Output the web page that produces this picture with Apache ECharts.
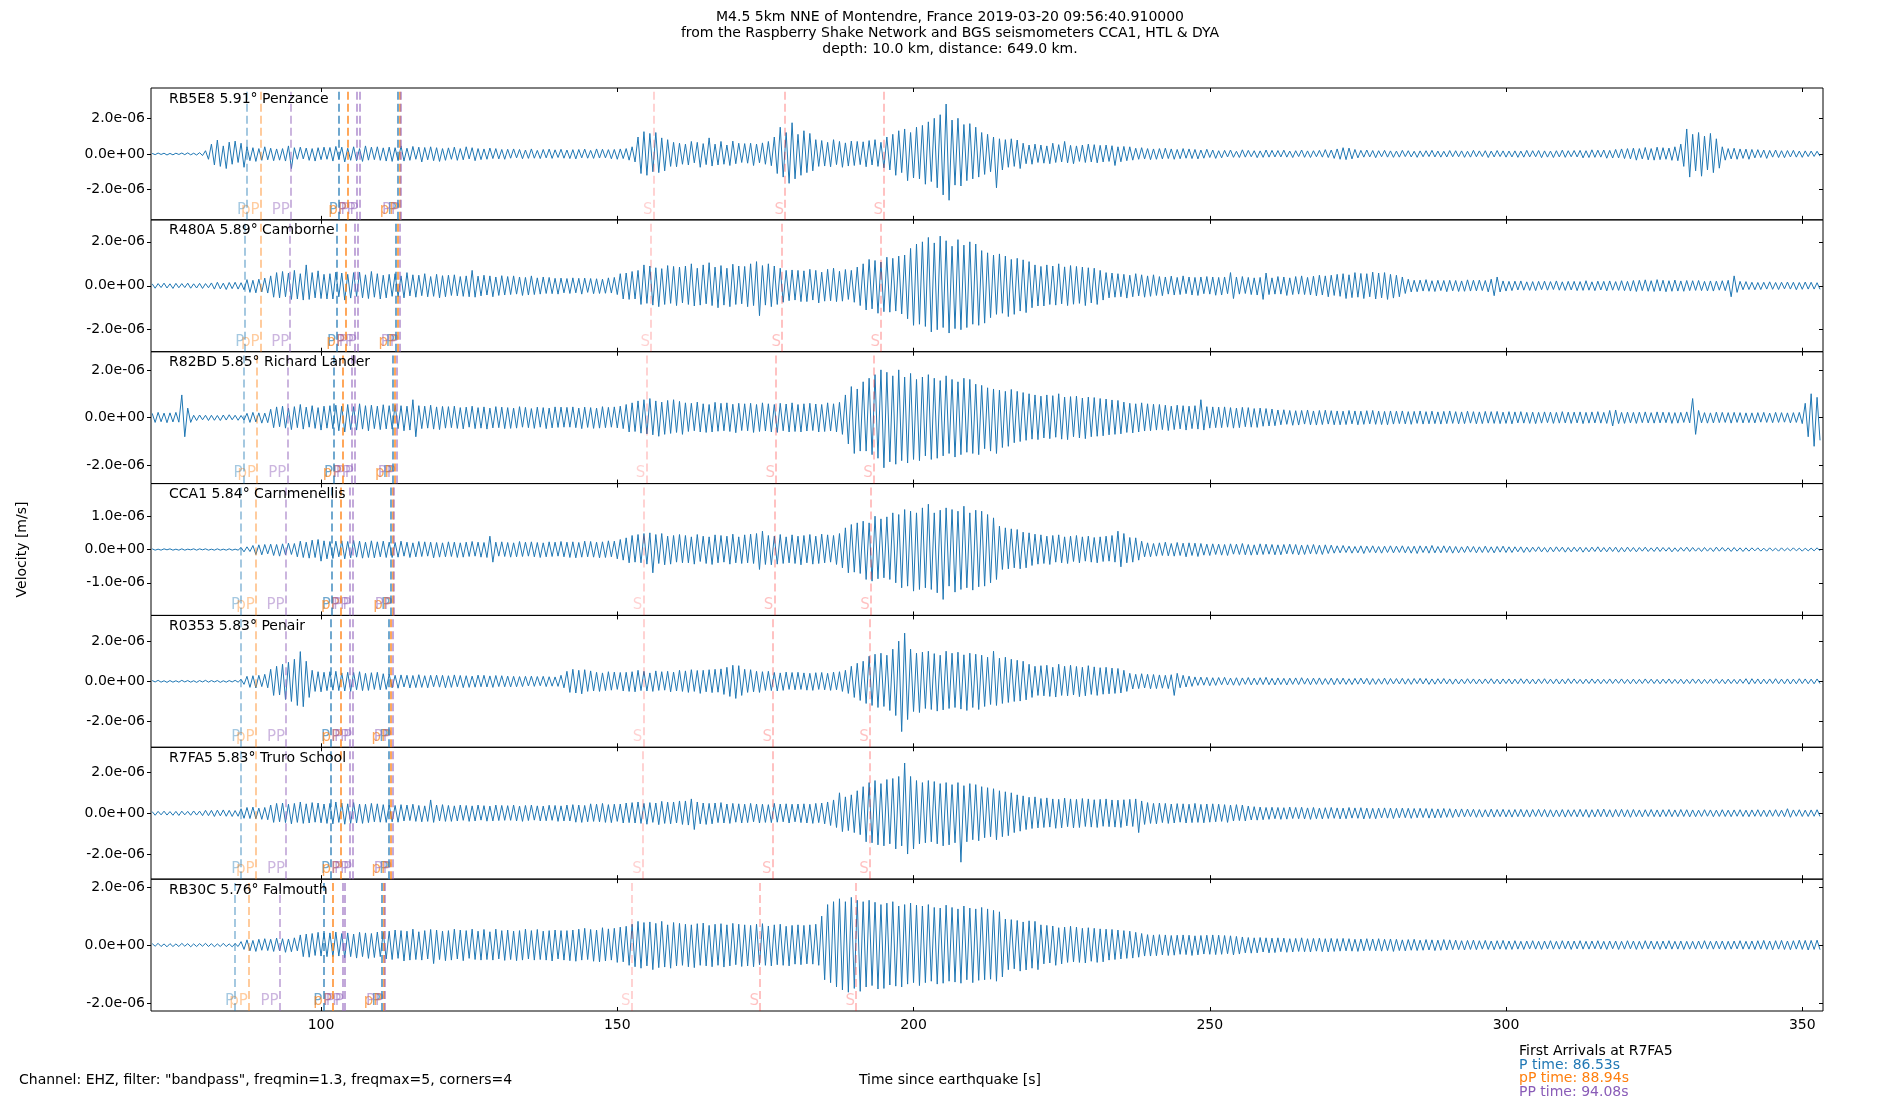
<!DOCTYPE html>
<html><head><meta charset="utf-8">
<script src="https://cdn.jsdelivr.net/npm/echarts@6/dist/echarts.min.js"></script>
<style>html,body{margin:0;padding:0;background:#fff}#c{width:1900px;height:1100px}</style>
</head><body><div id="c"></div>
<script>
// ---------------- data ----------------
const T0 = 71.5;     // time of first sample [s since origin]
const DT = 0.5;      // sample spacing [s]
const UNIT = 1e-8;   // trace values are in units of 1e-8 m/s
const stationCodes = ['RB5E8','R480A','R82BD','CCA1','R0353','R7FA5','RB30C'];
const stationDists = ['5.91','5.89','5.85','5.84','5.83','5.83','5.76'];
const stationNames = ['Penzance','Camborne','Richard Lander','Carnmenellis','Penair','Truro School','Falmouth'];
const phaseNames = ['P','pP','PP','P','pP','PP','PP','P','pP','PP','S','S','S'];
const arrivals_RB5E8 = [87.5,89.8,94.9,103.0,104.5,106.0,106.5,112.9,113.2,113.5,156.1,178.3,195.0];
const arrivals_R480A = [87.2,89.8,94.8,102.7,104.2,105.7,106.2,112.6,113.0,113.3,155.7,177.8,194.5];
const arrivals_R82BD = [86.9,89.2,94.3,102.2,103.6,105.2,105.7,112.1,112.4,112.8,154.9,176.8,193.3];
const arrivals_CCA1  = [86.5,89.0,94.0,101.8,103.3,104.9,105.3,111.8,112.1,112.3,154.4,176.5,192.8];
const arrivals_R0353 = [86.53,88.94,94.08,101.7,103.4,104.9,105.4,111.5,111.8,112.1,154.4,176.3,192.6];
const arrivals_R7FA5 = [86.53,88.94,94.08,101.7,103.4,104.9,105.4,111.5,111.8,112.1,154.3,176.2,192.6];
const arrivals_RB30C = [85.5,87.8,93.0,100.4,102.0,103.6,104.0,110.2,110.5,110.8,152.4,174.1,190.3];
const xTicks = [100,150,200,250,300,350];
const yTicksMain = [-2e-6,0,2e-6];
const yTicksCCA1 = [-1e-6,0,1e-6];

const trace_RB5E8 = [
3,-4,5,-3,4,-6,3,-5,4,-3,5,-4,6,-5,4,-6,7,-9,18,-30,
55,-62,78,-70,45,-82,66,-58,72,-48,60,-75,40,-38,35,-42,30,-36,40,-33,
32,-38,28,-35,30,-40,45,-82,35,-30,38,-28,33,-36,30,-40,35,-32,38,-30,
36,-40,42,-30,38,-45,32,-36,40,-38,30,-42,45,-35,38,-32,40,-36,34,-40,
38,-42,35,-38,45,-40,32,-36,42,-30,38,-45,36,-33,40,-38,35,-42,30,-36,
34,-30,38,-36,30,-33,40,-28,35,-38,30,-32,28,-30,33,-26,30,-28,25,-30,
26,-24,28,-22,25,-27,22,-25,28,-24,20,-26,25,-22,27,-25,23,-20,26,-24,
22,-26,24,-28,25,-22,27,-24,20,-25,28,-23,26,-22,24,-27,25,-30,28,-26,
30,-35,40,-45,95,-110,125,-120,115,-100,120,-105,90,-95,80,-70,65,-72,60,-58,
55,-62,70,-50,65,-75,58,-60,90,-68,55,-62,70,-58,50,-65,72,-55,60,-48,
58,-52,60,-65,55,-50,62,-58,70,-66,95,-110,150,-130,120,-165,175,-140,110,-120,
130,-105,115,-95,80,-70,75,-68,65,-72,80,-60,70,-75,62,-68,72,-65,70,-60,
68,-72,75,-62,80,-70,65,-78,95,-90,110,-120,130,-105,140,-150,120,-135,150,-140,
160,-170,180,-155,200,-190,220,-230,280,-260,190,-175,200,-180,165,-150,170,-140,150,-130,
120,-115,110,-100,95,-190,85,-90,80,-75,85,-70,78,-82,60,-55,50,-58,55,-48,
50,-52,45,-55,60,-48,52,-45,70,-50,48,-55,45,-42,50,-48,55,-45,52,-50,
48,-45,50,-42,46,-65,40,-44,42,-38,40,-35,32,-30,35,-28,30,-32,28,-30,
30,-28,32,-26,28,-30,25,-27,30,-24,28,-26,25,-28,22,-24,26,-20,22,-25,
18,-22,20,-17,22,-19,15,-20,23,-18,20,-16,18,-21,17,-19,22,-18,20,-17,
19,-17,21,-18,16,-20,18,-15,22,-19,17,-20,18,-16,20,-18,24,-20,22,-25,
28,-30,35,-32,33,-28,25,-22,20,-18,22,-17,19,-21,18,-16,20,-18,17,-19,
16,-18,20,-15,18,-17,15,-19,17,-16,18,-15,20,-17,16,-18,15,-17,19,-16,
18,-16,17,-19,15,-18,20,-16,17,-15,18,-20,16,-17,19,-15,17,-18,16,-17,
17,-19,16,-18,20,-17,18,-16,19,-21,17,-18,16,-20,18,-17,21,-19,18,-16,
19,-17,20,-22,18,-20,23,-19,21,-18,22,-24,20,-23,25,-22,28,-26,30,-28,
32,-35,30,-28,36,-33,30,-35,38,-32,35,-30,33,-36,40,-38,55,-70,140,-130,
110,-95,120,-125,100,-90,115,-105,85,-80,40,-35,30,-28,32,-30,28,-25,27,-30,
25,-22,24,-20,22,-25,20,-18,22,-20,18,-21,19,-17,20,-18,16,-19,17,-15,
16,-14,15,-13];

const trace_R480A = [
9,-11,10,-8,12,-10,9,-12,11,-9,10,-8,12,-11,9,-10,11,-12,10,-9,
13,-15,16,-14,12,-17,15,-13,16,-15,14,-18,28,-30,25,-32,30,-28,35,-33,
45,-52,60,-55,65,-50,58,-62,70,-60,55,-65,95,-62,60,-55,68,-58,52,-60,
55,-60,62,-50,58,-65,52,-56,60,-48,62,-55,50,-58,65,-52,55,-60,48,-55,
52,-48,55,-50,45,-55,60,-46,50,-52,48,-45,55,-50,42,-48,52,-55,46,-50,
48,-44,50,-46,42,-48,45,-50,70,-52,44,-46,48,-42,45,-50,40,-44,46,-42,
42,-40,45,-38,40,-44,38,-42,45,-40,36,-38,40,-35,38,-36,34,-38,35,-32,
33,-35,36,-32,34,-38,35,-30,33,-36,32,-35,30,-34,36,-33,38,-40,55,-60,
58,-62,65,-60,70,-85,95,-80,90,-88,82,-95,78,-85,92,-80,88,-90,85,-78,
90,-85,100,-92,80,-88,95,-82,105,-90,85,-100,92,-88,80,-95,98,-85,90,-82,
88,-95,100,-90,110,-136,92,-88,100,-95,90,-85,80,-75,70,-68,72,-65,70,-72,
68,-72,75,-65,70,-78,62,-70,75,-68,80,-72,66,-70,74,-62,70,-75,85,-90,
100,-110,120,-105,115,-125,108,-118,130,-120,125,-115,135,-128,140,-150,170,-180,190,-175,
200,-185,220,-210,195,-200,226,-190,205,-215,180,-195,210,-200,185,-190,200,-175,190,-180,
160,-170,150,-145,140,-130,145,-125,135,-140,120,-130,125,-115,118,-122,110,-100,95,-92,
88,-92,95,-85,90,-88,100,-82,86,-90,92,-84,88,-80,85,-90,82,-78,80,-85,
70,-65,60,-55,58,-52,55,-50,52,-56,48,-50,55,-46,50,-52,45,-48,50,-44,
42,-45,40,-38,44,-42,38,-40,45,-36,40,-42,38,-44,40,-36,42,-38,40,-43,
38,-42,40,-36,60,-58,40,-38,42,-35,38,-40,36,-42,38,-62,58,-40,36,-38,
42,-38,40,-44,36,-40,42,-38,45,-40,38,-42,44,-46,48,-42,45,-50,48,-44,
52,-48,55,-58,50,-54,60,-52,56,-58,55,-50,62,-60,58,-55,60,-62,52,-56,
48,-50,40,-35,30,-28,25,-27,26,-24,28,-25,23,-26,25,-22,24,-27,25,-23,
24,-26,22,-25,27,-24,25,-23,26,-22,24,-28,30,-45,40,-28,22,-24,20,-22,
21,-19,22,-20,18,-21,19,-22,20,-18,21,-20,19,-17,22,-20,18,-21,20,-19,
20,-22,19,-21,23,-20,18,-22,21,-19,20,-23,22,-20,19,-21,23,-22,20,-24,
24,-26,25,-22,27,-25,23,-26,28,-24,25,-27,23,-25,26,-24,22,-25,24,-22,
23,-21,24,-22,20,-23,22,-24,21,-20,23,-22,25,-50,45,-30,20,-18,19,-17,
16,-18,15,-17,16,-15,18,-16,15,-17,16,-14,17,-15,16,-18,15,-16,17,-15,
16,-15,14,-16];

const trace_R82BD = [
18,-20,22,-17,19,-21,20,-18,22,-19,95,-80,40,-20,10,-12,11,-9,10,-12,
10,-11,9,-12,11,-10,12,-9,10,-11,9,-10,18,-20,22,-18,20,-23,19,-21,
35,-42,45,-38,48,-44,40,-50,46,-42,55,-48,44,-40,50,-45,42,-52,48,-44,
50,-46,52,-55,48,-60,55,-50,46,-52,58,-48,50,-55,52,-46,48,-50,54,-47,
50,-48,52,-46,50,-55,48,-52,75,-80,50,-46,48,-44,52,-48,45,-50,47,-44,
46,-42,48,-45,42,-47,44,-40,48,-46,42,-44,45,-48,40,-43,46,-42,44,-46,
42,-45,40,-44,46,-40,43,-42,38,-45,44,-40,42,-46,40,-43,45,-41,44,-40,
43,-40,45,-42,40,-46,44,-41,42,-45,40,-44,46,-42,43,-40,45,-43,48,-46,
55,-60,62,-58,70,-65,75,-68,80,-72,70,-78,65,-70,72,-66,75,-62,68,-70,
62,-58,60,-55,65,-60,58,-62,55,-60,64,-57,60,-55,62,-58,56,-63,60,-54,
58,-55,60,-62,55,-58,62,-56,58,-60,55,-62,60,-55,57,-60,62,-58,55,-60,
58,-56,60,-54,57,-60,55,-58,62,-56,58,-60,64,-70,95,-110,130,-150,120,-140,
150,-140,165,-155,180,-170,200,-210,190,-185,175,-195,200,-180,170,-190,185,-175,160,-180,
170,-160,180,-175,165,-170,155,-160,175,-150,160,-165,150,-155,165,-145,160,-150,140,-155,
135,-130,125,-140,120,-150,115,-125,110,-120,118,-105,110,-100,105,-95,100,-90,95,-92,
90,-85,95,-88,92,-82,100,-90,86,-92,88,-80,90,-85,82,-88,86,-80,84,-78,
80,-76,78,-72,74,-70,72,-68,65,-62,60,-64,58,-60,62,-56,58,-55,56,-52,
55,-50,52,-54,48,-50,52,-47,50,-52,48,-46,50,-48,75,-52,46,-44,45,-42,
44,-42,45,-40,42,-44,40,-42,43,-38,42,-40,38,-41,40,-36,38,-35,36,-34,
32,-30,33,-28,30,-32,29,-31,30,-27,32,-30,28,-31,30,-29,31,-27,29,-30,
28,-30,27,-29,30,-26,28,-30,27,-28,29,-26,30,-28,27,-29,26,-30,28,-27,
27,-25,28,-26,25,-28,26,-24,28,-27,25,-26,27,-25,24,-27,26,-25,28,-24,
25,-26,24,-25,27,-23,25,-26,24,-25,26,-23,25,-24,26,-25,23,-24,25,-26,
24,-22,25,-23,22,-24,23,-25,22,-23,24,-21,23,-24,22,-23,25,-22,23,-24,
23,-22,24,-25,22,-23,24,-22,25,-23,22,-24,30,-35,32,-25,22,-24,23,-22,
22,-24,23,-21,24,-22,21,-23,24,-22,23,-21,22,-24,21,-23,22,-20,24,-22,
80,-70,30,-22,21,-23,20,-22,23,-21,22,-20,21,-23,22,-20,21,-22,20,-21,
20,-22,21,-19,22,-20,19,-21,22,-20,21,-19,20,-22,21,-20,22,-25,60,-80,
100,-120,85,-95];

const trace_CCA1 = [
2,-2,1,-2,2,-1,2,-2,1,-2,2,-2,1,-1,2,-2,2,-1,2,-2,
1,-2,2,-2,1,-2,2,-2,1,-2,6,-7,8,-6,12,-15,14,-16,15,-13,
16,-18,15,-20,17,-16,19,-15,18,-22,25,-24,22,-26,28,-24,30,-35,26,-28,
24,-27,25,-22,26,-28,24,-25,27,-23,25,-26,22,-24,26,-25,23,-22,25,-24,
22,-24,21,-23,25,-20,22,-24,20,-22,24,-21,23,-20,22,-25,21,-23,20,-22,
23,-21,22,-24,20,-23,22,-21,24,-20,22,-23,21,-24,40,-38,22,-20,23,-21,
21,-23,20,-22,24,-21,22,-20,23,-22,21,-24,20,-22,23,-21,22,-20,24,-22,
22,-24,23,-25,21,-23,25,-22,24,-23,22,-25,23,-24,26,-22,25,-28,30,-32,
35,-40,42,-38,45,-40,48,-44,50,-70,45,-42,48,-46,40,-44,42,-38,45,-40,
42,-40,38,-44,45,-36,40,-42,38,-45,44,-40,42,-38,40,-44,46,-40,38,-42,
44,-40,46,-42,48,-60,55,-45,42,-46,40,-44,45,-42,38,-40,44,-42,40,-46,
42,-40,45,-44,40,-42,46,-40,44,-38,42,-45,48,-55,65,-70,75,-68,80,-72,
85,-90,80,-95,100,-88,92,-85,98,-90,110,-100,105,-115,120,-110,115,-125,110,-120,
125,-115,136,-120,110,-130,118,-150,125,-110,120,-128,115,-120,130,-115,110,-122,118,-112,
115,-110,105,-100,95,-90,70,-60,65,-58,62,-55,60,-58,52,-55,50,-48,46,-44,
44,-42,40,-45,42,-38,44,-40,38,-42,40,-36,42,-40,38,-35,40,-38,36,-40,
38,-36,40,-35,42,-38,55,-52,48,-40,36,-38,35,-32,25,-22,20,-22,18,-20,
20,-18,22,-19,18,-20,21,-18,19,-22,20,-18,19,-21,18,-17,16,-18,17,-15,
16,-17,15,-18,17,-14,16,-15,18,-16,15,-17,14,-16,17,-15,16,-14,15,-16,
14,-16,15,-13,16,-14,15,-16,13,-15,14,-13,15,-14,13,-15,14,-12,13,-11,
11,-10,12,-9,10,-11,9,-10,11,-12,10,-9,11,-10,9,-11,10,-9,11,-10,
10,-9,11,-10,9,-11,10,-12,11,-9,10,-11,12,-10,9,-10,11,-9,10,-11,
9,-10,8,-9,10,-8,9,-10,8,-9,10,-9,8,-10,9,-8,10,-9,8,-9,
8,-7,8,-9,7,-8,7,-6,8,-7,6,-8,7,-7,8,-6,7,-8,6,-7,
7,-6,7,-8,6,-7,7,-6,8,-7,6,-7,7,-6,7,-8,6,-7,7,-6,
6,-7,6,-5,7,-6,5,-6,7,-6,6,-5,6,-7,5,-6,6,-5,7,-6,
6,-5,5,-6,6,-5,5,-6,7,-5,6,-5,5,-6,6,-5,5,-6,5,-5,
5,-4,5,-5,4,-5,5,-4,4,-5,5,-4,4,-4,5,-4,4,-5,4,-4,
4,-4,5,-4];

const trace_R0353 = [
4,-3,5,-4,3,-5,4,-4,3,-4,5,-3,4,-4,3,-5,4,-3,5,-4,
4,-3,4,-5,3,-4,4,-3,5,-4,10,-15,25,-30,28,-33,30,-26,35,-32,
60,-70,75,-68,85,-90,95,-100,110,-120,148,-126,100,-80,55,-50,48,-52,45,-46,
48,-44,50,-46,42,-48,45,-50,44,-42,48,-46,40,-45,43,-40,45,-42,38,-40,
35,-32,30,-34,32,-28,30,-33,29,-31,33,-30,28,-32,30,-27,31,-29,30,-32,
28,-30,32,-27,29,-31,28,-30,26,-29,31,-27,30,-28,27,-30,29,-26,28,-27,
26,-28,25,-27,24,-26,25,-23,26,-25,24,-22,25,-26,23,-24,22,-25,30,-32,
50,-55,60,-58,55,-62,58,-50,52,-48,45,-50,42,-46,48,-44,46,-40,44,-48,
45,-50,48,-52,55,-46,50,-48,42,-50,52,-45,48,-44,50,-52,46,-48,55,-50,
52,-55,58,-50,54,-60,55,-52,58,-56,60,-54,62,-65,70,-75,80,-85,78,-70,
60,-55,58,-52,50,-55,48,-45,50,-46,44,-48,42,-45,46,-40,44,-42,45,-40,
42,-44,40,-45,43,-40,44,-42,40,-45,46,-42,48,-50,55,-60,75,-80,90,-95,
100,-110,125,-120,135,-130,140,-125,130,-145,160,-170,200,-250,240,-190,160,-150,140,-155,
145,-135,150,-140,138,-148,130,-142,150,-135,140,-130,145,-138,132,-145,140,-130,135,-140,
130,-125,120,-115,150,-120,115,-110,120,-105,110,-100,105,-98,100,-92,85,-80,75,-70,
78,-72,80,-75,70,-78,85,-70,75,-72,80,-68,74,-76,70,-72,78,-65,72,-70,
68,-64,70,-62,66,-60,64,-58,55,-50,40,-38,35,-36,38,-33,35,-37,34,-36,
32,-34,30,-36,33,-70,40,-32,30,-28,26,-25,22,-20,21,-19,20,-22,18,-20,
19,-17,20,-18,16,-19,18,-20,17,-15,19,-18,16,-17,18,-16,20,-17,15,-18,
17,-16,15,-18,16,-15,17,-16,18,-14,15,-17,16,-15,17,-16,14,-15,16,-17,
15,-14,16,-15,13,-16,15,-14,16,-13,15,-16,14,-15,13,-14,16,-15,14,-13,
14,-13,15,-14,13,-15,14,-12,15,-13,14,-15,12,-14,13,-12,14,-13,12,-14,
12,-13,11,-12,13,-11,12,-13,11,-12,12,-11,13,-12,11,-13,12,-11,12,-13,
11,-12,13,-11,12,-12,11,-13,12,-11,13,-12,11,-12,12,-13,11,-12,13,-11,
12,-11,10,-12,11,-11,12,-10,11,-12,10,-11,12,-11,11,-10,12,-11,10,-12,
11,-12,10,-11,12,-10,11,-11,10,-12,11,-10,12,-11,10,-11,11,-12,10,-11,
12,-10,11,-12,10,-11,11,-10,12,-11,10,-12,11,-11,10,-12,11,-10,13,-14,
13,-11,12,-13,11,-12,12,-11,13,-12,11,-12,12,-13,11,-12,13,-11,12,-12,
11,-12,12,-11];

const trace_R7FA5 = [
8,-10,9,-8,10,-9,8,-10,9,-11,10,-8,9,-10,11,-9,10,-12,14,-12,
14,-16,15,-13,16,-15,14,-16,13,-15,22,-25,28,-26,30,-27,25,-30,28,-32,
40,-45,48,-42,50,-46,44,-52,48,-45,55,-50,46,-48,52,-44,50,-47,45,-50,
48,-52,55,-45,50,-54,46,-50,52,-48,45,-50,44,-46,48,-42,46,-44,42,-45,
40,-42,38,-44,42,-38,40,-36,44,-40,38,-42,36,-40,65,-45,40,-38,42,-40,
38,-40,36,-38,40,-35,38,-40,36,-38,40,-34,37,-39,35,-38,40,-36,38,-35,
37,-35,40,-38,35,-40,38,-36,40,-34,36,-38,35,-37,39,-35,38,-40,36,-38,
40,-38,42,-44,40,-45,38,-42,46,-40,44,-42,48,-45,42,-46,44,-40,45,-48,
50,-46,52,-48,55,-50,48,-54,52,-45,50,-56,58,-50,54,-52,55,-48,60,-55,
60,-58,70,-80,55,-52,50,-55,48,-52,50,-46,52,-48,45,-50,48,-44,46,-48,
44,-46,48,-42,45,-48,44,-45,42,-46,48,-44,45,-42,46,-48,44,-42,45,-46,
46,-48,44,-50,48,-46,50,-52,55,-60,65,-70,100,-90,80,-85,90,-95,110,-105,
130,-140,150,-145,160,-155,145,-160,165,-150,170,-175,180,-160,246,-200,180,-175,160,-150,
150,-145,160,-140,155,-150,145,-160,150,-155,140,-145,150,-240,135,-140,145,-130,140,-135,
130,-120,125,-115,120,-130,110,-115,105,-110,100,-95,90,-88,85,-80,78,-75,80,-72,
72,-70,75,-68,70,-74,68,-72,74,-66,70,-72,68,-70,72,-65,70,-68,66,-70,
68,-64,70,-66,65,-68,64,-70,66,-62,68,-65,70,-95,60,-55,52,-50,48,-52,
50,-46,48,-50,45,-48,47,-44,46,-48,44,-46,48,-45,43,-47,45,-44,46,-42,
44,-40,42,-45,40,-38,42,-36,40,-38,35,-33,32,-34,30,-32,28,-30,29,-27,
28,-30,27,-29,30,-26,28,-27,29,-28,26,-30,28,-27,25,-28,27,-26,28,-25,
26,-28,25,-27,28,-24,26,-25,27,-28,25,-26,24,-27,25,-23,26,-24,25,-26,
24,-23,25,-22,24,-25,23,-22,24,-21,23,-24,22,-23,21,-22,23,-20,22,-21,
20,-19,21,-18,20,-17,19,-20,18,-19,17,-18,20,-19,18,-17,19,-18,17,-19,
18,-17,19,-18,17,-19,18,-16,19,-17,18,-19,17,-18,16,-17,18,-19,17,-16,
17,-18,19,-17,18,-20,17,-18,19,-17,20,-18,17,-19,18,-17,19,-18,17,-20,
18,-17,16,-18,17,-16,18,-17,16,-18,17,-16,18,-17,16,-17,18,-16,17,-18,
16,-17,15,-16,17,-15,16,-17,15,-16,17,-16,15,-17,16,-15,17,-16,15,-17,
16,-15,17,-16,15,-17,16,-15,17,-16,15,-17,22,-20,16,-15,17,-16,15,-16,
16,-15,17,-16];

const trace_RB30C = [
5,-4,6,-5,4,-6,5,-5,4,-5,6,-4,5,-6,4,-5,5,-4,6,-5,
5,-6,4,-5,6,-5,4,-6,5,-5,12,-15,18,-20,16,-22,20,-18,22,-19,
20,-22,24,-20,22,-25,21,-23,25,-20,35,-40,38,-42,40,-36,44,-38,42,-40,
42,-40,45,-38,40,-44,42,-40,38,-45,44,-40,42,-46,40,-43,45,-40,44,-48,
48,-50,52,-46,50,-55,48,-52,55,-50,46,-52,50,-48,54,-64,52,-50,48,-54,
50,-52,55,-48,52,-54,50,-46,55,-50,48,-52,54,-50,46,-52,55,-48,50,-53,
52,-50,48,-54,50,-52,55,-48,50,-52,54,-50,48,-52,50,-55,52,-48,50,-52,
50,-54,52,-56,55,-52,58,-50,54,-56,52,-58,60,-55,56,-52,58,-60,62,-58,
65,-70,72,-75,82,-80,78,-72,80,-85,75,-78,82,-76,70,-80,78,-72,75,-70,
72,-75,70,-78,74,-70,76,-72,68,-75,72,-70,74,-76,70,-72,75,-68,72,-74,
70,-72,68,-75,72,-68,74,-70,66,-72,70,-68,72,-70,65,-72,68,-66,70,-68,
68,-65,70,-66,72,-70,100,-120,140,-130,150,-145,160,-155,150,-163,165,-150,155,-160,
150,-145,155,-140,148,-152,140,-150,145,-138,150,-142,135,-145,140,-135,145,-130,138,-140,
135,-130,140,-125,130,-135,128,-132,138,-125,130,-128,125,-132,135,-120,128,-130,125,-122,
130,-120,125,-118,120,-125,115,-110,90,-85,88,-82,85,-90,80,-86,84,-80,82,-85,
70,-65,68,-62,66,-70,60,-65,62,-60,65,-58,62,-60,58,-62,60,-56,58,-60,
56,-58,55,-52,54,-50,52,-48,50,-46,48,-45,44,-42,40,-38,36,-38,35,-37,
36,-34,35,-36,33,-35,34,-32,35,-33,34,-36,32,-34,33,-31,34,-32,35,-33,
34,-32,33,-30,32,-34,30,-31,28,-27,26,-28,25,-27,26,-24,25,-27,24,-26,
25,-23,24,-25,22,-24,23,-22,25,-23,22,-24,23,-21,24,-23,22,-24,23,-22,
22,-21,23,-20,22,-21,20,-22,21,-20,22,-19,21,-20,22,-21,20,-19,21,-22,
20,-19,18,-20,19,-18,20,-19,17,-18,19,-17,18,-19,17,-18,19,-17,18,-16,
17,-16,15,-17,16,-15,17,-16,15,-14,16,-15,14,-16,15,-14,16,-15,14,-15,
15,-14,13,-15,14,-13,15,-14,13,-15,14,-13,15,-14,13,-14,15,-13,14,-15,
14,-13,15,-14,13,-14,14,-13,15,-14,13,-15,14,-13,14,-15,13,-14,15,-13,
14,-15,13,-14,15,-13,14,-14,13,-15,14,-13,15,-14,13,-14,14,-15,13,-14,
13,-14,14,-13,15,-14,13,-14,14,-13,14,-15,13,-14,14,-13,15,-14,13,-14,
14,-15,15,-14,16,-15,14,-16,15,-14,16,-15,14,-16,15,-14,17,-15,16,-17,
16,-15,17,-16];

const traces = [trace_RB5E8, trace_R480A, trace_R82BD, trace_CCA1, trace_R0353, trace_R7FA5, trace_RB30C];
const arrivals = [arrivals_RB5E8, arrivals_R480A, arrivals_R82BD, arrivals_CCA1, arrivals_R0353, arrivals_R7FA5, arrivals_RB30C];
const yTicksPerPanel = [yTicksMain, yTicksMain, yTicksMain, yTicksCCA1, yTicksMain, yTicksMain, yTicksMain];

// ---------------- layout / style ----------------
const FONT = "'DejaVu Sans', sans-serif";
const X_MIN = 71.3, X_MAX = 353.5;
const yHalfRange = [3.70e-6, 3.0e-6, 2.76e-6, 1.98e-6, 3.28e-6, 3.23e-6, 2.28e-6];
const PLOT_LEFT = 151, PLOT_RIGHT = 1823, PLOT_TOP = 88, PLOT_BOTTOM = 1011;
const PANEL_H = (PLOT_BOTTOM - PLOT_TOP) / 7;
const phaseRGB = {P:'31,119,180', pP:'255,127,14', PP:'148,103,189', S:'255,0,0'};
const phaseAlpha = [0.5,0.5,0.6, 0.8,0.85,0.7,0.7, 0.8,0.85,0.7, 0.22,0.3,0.3];

function fmtSci(v) {
  if (Math.abs(v) < 1e-15) return '0.0e+00';
  return v.toExponential(1).replace(/e([+-])(\d+)$/, function (m, s, d) {
    return 'e' + s + (d.length < 2 ? '0' + d : d);
  });
}

const grids = [], xAxes = [], yAxes = [], series = [], titles = [];
titles.push({
  text: 'M4.5 5km NNE of Montendre, France 2019-03-20 09:56:40.910000\nfrom the Raspberry Shake Network and BGS seismometers CCA1, HTL & DYA\ndepth: 10.0 km, distance: 649.0 km.',
  left: 'center', top: 9, padding: 0,
  textStyle: {fontSize: 14, lineHeight: 16, fontWeight: 'normal', color: '#000', fontFamily: FONT}
});

for (let i = 0; i < 7; i++) {
  const top = PLOT_TOP + i * PANEL_H;
  const L = yHalfRange[i];
  grids.push({left: PLOT_LEFT, right: 1900 - PLOT_RIGHT, top: top, height: PANEL_H,
    show: true, borderColor: '#000', borderWidth: 1, backgroundColor: 'transparent'});
  const xCommon = {type: 'value', gridIndex: i, min: X_MIN, max: X_MAX,
    axisLine: {show: false, onZero: false}, splitLine: {show: false}};
  xAxes.push(Object.assign({}, xCommon, {position: 'bottom',
    axisTick: {show: true, inside: true, length: 4, customValues: xTicks, lineStyle: {color: '#000'}},
    axisLabel: {show: i === 6, customValues: xTicks, margin: 7, color: '#000', fontSize: 14, fontFamily: FONT}}));
  xAxes.push(Object.assign({}, xCommon, {position: 'top',
    axisTick: {show: true, inside: true, length: 4, customValues: xTicks, lineStyle: {color: '#000'}},
    axisLabel: {show: false}}));
  const yCommon = {type: 'value', gridIndex: i, min: -L, max: L,
    axisLine: {show: false, onZero: false}, splitLine: {show: false}};
  const yLeft = Object.assign({}, yCommon, {position: 'left',
    axisTick: {show: true, inside: false, length: 4, customValues: yTicksPerPanel[i], lineStyle: {color: '#000'}},
    axisLabel: {show: true, customValues: yTicksPerPanel[i], margin: 6, color: '#000', fontSize: 14, fontFamily: FONT, formatter: fmtSci}});
  if (i === 3) {
    Object.assign(yLeft, {name: 'Velocity [m/s]', nameLocation: 'middle', nameGap: 122,
      nameTextStyle: {fontSize: 14, color: '#000', fontFamily: FONT}});
  }
  yAxes.push(yLeft);
  yAxes.push(Object.assign({}, yCommon, {position: 'right',
    axisTick: {show: true, inside: true, length: 4, customValues: yTicksPerPanel[i], lineStyle: {color: '#000'}},
    axisLabel: {show: false}}));

  const tr = traces[i];
  const data = tr.map((v, k) => [T0 + k * DT, v * UNIT]);
  series.push({type: 'line', xAxisIndex: 2 * i, yAxisIndex: 2 * i, data: data,
    symbol: 'none', showSymbol: false, animation: false, silent: true, z: 2,
    lineStyle: {color: '#1f77b4', width: 1}});

  const arr = arrivals[i];
  const yLab = -L + 2 * L * (10 / PANEL_H);
  const labelData = arr.map((t, k) => {
    const c = 'rgba(' + phaseRGB[phaseNames[k]] + ',' + phaseAlpha[k] + ')';
    return {value: [t, yLab], name: phaseNames[k], label: {color: c}};
  });
  const lineData = arr.map((t, k) => ({xAxis: t,
    lineStyle: {color: 'rgba(' + phaseRGB[phaseNames[k]] + ',' + phaseAlpha[k] + ')', width: 1.6, type: [8, 4]}}));
  series.push({type: 'scatter', xAxisIndex: 2 * i, yAxisIndex: 2 * i, data: labelData,
    symbolSize: 0, animation: false, silent: true, z: 3,
    label: {show: true, position: 'left', distance: 1, formatter: '{b}', fontSize: 15, fontFamily: FONT},
    markLine: {silent: true, animation: false, symbol: ['none', 'none'], label: {show: false},
      emphasis: {disabled: true}, data: lineData}});

  titles.push({text: stationCodes[i] + ' ' + stationDists[i] + '\u00b0 ' + stationNames[i],
    left: 169, top: top + 4, padding: 0,
    textStyle: {fontSize: 14, fontWeight: 'normal', color: '#000', fontFamily: FONT}});
}

const ref = arrivals_R7FA5;
const ts = {fontSize: 14, fontWeight: 'normal', fontFamily: FONT};
titles.push({text: 'Channel: EHZ, filter: "bandpass", freqmin=1.3, freqmax=5, corners=4', left: 19, top: 1073, padding: 0, textStyle: Object.assign({color: '#000'}, ts)});
titles.push({text: 'Time since earthquake [s]', left: 'center', top: 1073, padding: 0, textStyle: Object.assign({color: '#000'}, ts)});
titles.push({text: 'First Arrivals at R7FA5', left: 1519, top: 1044, padding: 0, textStyle: Object.assign({color: '#000'}, ts)});
titles.push({text: 'P time: ' + ref[0].toFixed(2) + 's', left: 1519, top: 1058, padding: 0, textStyle: Object.assign({color: '#1f77b4'}, ts)});
titles.push({text: 'pP time: ' + ref[1].toFixed(2) + 's', left: 1519, top: 1071, padding: 0, textStyle: Object.assign({color: '#ff7f0e'}, ts)});
titles.push({text: 'PP time: ' + ref[2].toFixed(2) + 's', left: 1519, top: 1085, padding: 0, textStyle: Object.assign({color: '#8a5cb8'}, ts)});

const chart = echarts.init(document.getElementById('c'), null, {renderer: 'canvas'});
chart.setOption({
  backgroundColor: '#fff',
  animation: false,
  title: titles,
  grid: grids, xAxis: xAxes, yAxis: yAxes, series: series
});
</script></body></html>
